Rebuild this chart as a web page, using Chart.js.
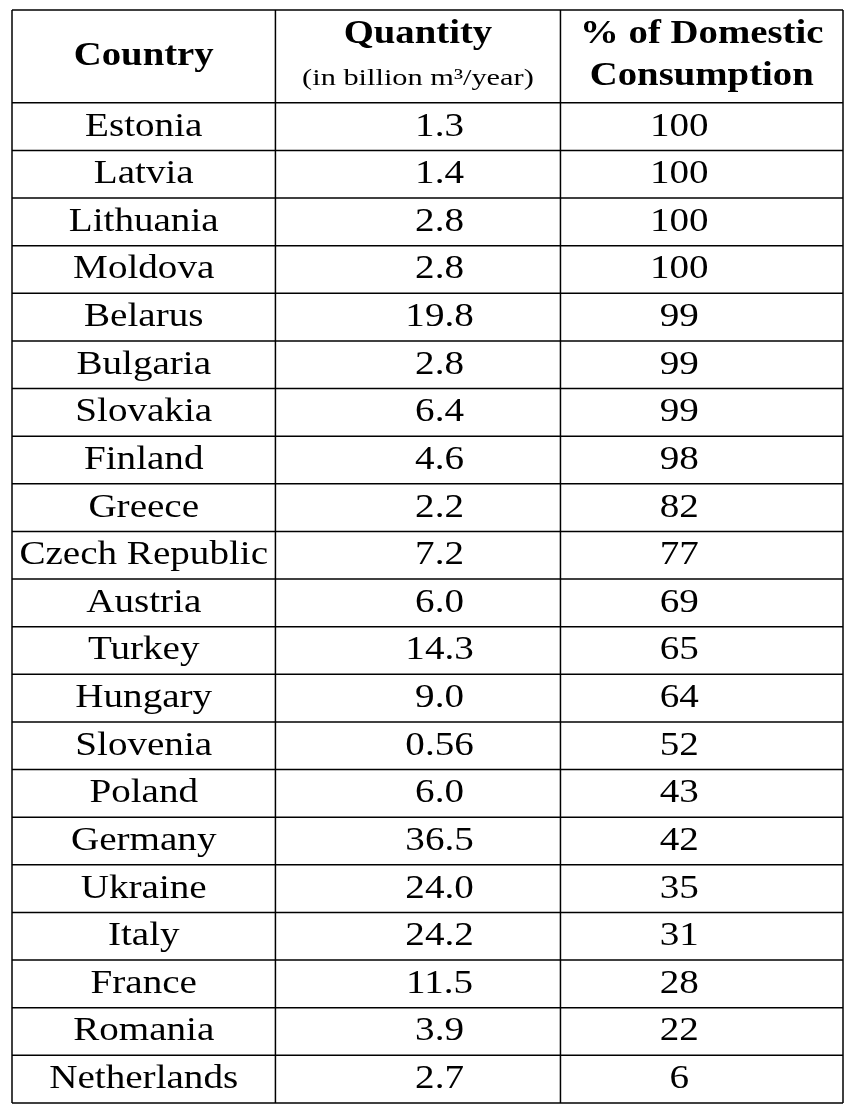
<!DOCTYPE html>
<html lang="en">
<head>
<meta charset="UTF-8">
<title>Gas imports table</title>
<script src="https://cdn.jsdelivr.net/npm/chart.js"></script>
<style>
  html,body{margin:0;padding:0;background:#fff;}
  #wrap{width:852px;height:1110px;}
</style>
</head>
<body>
<div id="wrap"><canvas id="tbl"></canvas></div>
<script>
/* ==== data ==== */
const countries = ['Estonia','Latvia','Lithuania','Moldova','Belarus','Bulgaria','Slovakia','Finland','Greece','Czech Republic','Austria','Turkey','Hungary','Slovenia','Poland','Germany','Ukraine','Italy','France','Romania','Netherlands'];
const quantity = ['1.3','1.4','2.8','2.8','19.8','2.8','6.4','4.6','2.2','7.2','6.0','14.3','9.0','0.56','6.0','36.5','24.0','24.2','11.5','3.9','2.7'];
const share = [100,100,100,100,99,99,99,98,82,77,69,65,64,52,43,42,35,31,28,22,6];

/* ==== layout (scale units) ==== */
const colEdges = [0, 0.317, 0.66, 1];
const bodyShift = [0, 0.026, -0.027];
const headH = 1.95;
const nRows = countries.length;

// text stretched horizontally, like the scanned original
function txt(ctx, s, x, y, font, sx){
  ctx.save();
  ctx.font = font;
  ctx.translate(x, y);
  ctx.scale(sx, 1);
  ctx.fillText(s, 0, 0);
  ctx.restore();
}

const tablePlugin = {
  id:'table',
  afterDraw(chart){
    const {ctx, scales:{x,y}} = chart;
    const X = v => x.getPixelForValue(v);
    const Y = v => y.getPixelForValue(v);
    ctx.save();
    ctx.strokeStyle = '#000';
    ctx.lineWidth = 1.5;
    const hs = [0, headH];
    for(let i=1;i<=nRows;i++) hs.push(headH+i);
    hs.forEach(v=>{ctx.beginPath();ctx.moveTo(X(0),Y(v));ctx.lineTo(X(1),Y(v));ctx.stroke();});
    colEdges.forEach(v=>{ctx.beginPath();ctx.moveTo(X(v),Y(0));ctx.lineTo(X(v),Y(headH+nRows));ctx.stroke();});

    ctx.fillStyle = '#000';
    ctx.textAlign = 'center';
    ctx.textBaseline = 'middle';
    const cx = i => (X(colEdges[i])+X(colEdges[i+1]))/2;
    const head = 'bold 34px "Liberation Serif"';
    txt(ctx, 'Country', cx(0), Y(headH/2), head, 1.14);
    txt(ctx, 'Quantity', cx(1), Y(0.5), head, 1.14);
    txt(ctx, '% of Domestic', cx(2), Y(0.5), head, 1.14);
    txt(ctx, 'Consumption', cx(2), Y(1.4), head, 1.14);
    txt(ctx, '(in billion m\u00B3/year)', cx(1), Y(1.45), '23px "Liberation Serif"', 1.32);
    const body = '34px "Liberation Serif"';
    countries.forEach((c,i)=>{
      const yc = Y(headH+i+0.5);
      txt(ctx, c, cx(0), yc, body, 1.15);
      txt(ctx, quantity[i], cx(1)+X(bodyShift[1])-X(0), yc, body, 1.15);
      txt(ctx, String(share[i]), cx(2)+X(bodyShift[2])-X(0), yc, body, 1.15);
    });
    ctx.restore();
  }
};

new Chart(document.getElementById('tbl'),{
  type:'scatter',
  data:{datasets:[{data:countries.map((c,i)=>({x:0.5,y:headH+i+0.5})), pointRadius:0}]},
  options:{
    responsive:true, maintainAspectRatio:false, animation:false,
    layout:{padding:{left:12,right:9,top:10,bottom:7}},
    plugins:{legend:{display:false},tooltip:{enabled:false}},
    scales:{
      x:{type:'linear',min:0,max:1,display:false},
      y:{type:'linear',min:0,max:headH+nRows,reverse:true,display:false}
    }
  },
  plugins:[tablePlugin]
});
</script>
</body>
</html>
